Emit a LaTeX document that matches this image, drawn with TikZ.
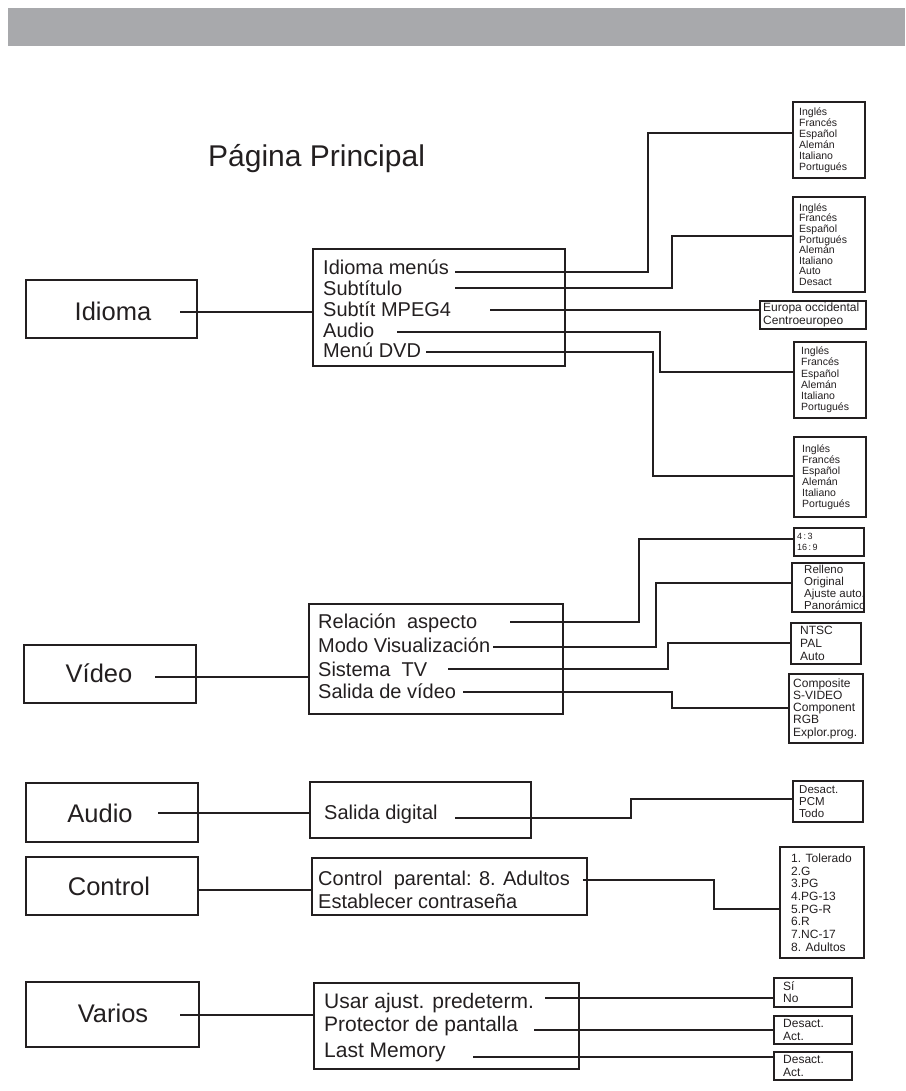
\documentclass[tikz,border=0pt]{standalone}
\usepackage{fontspec}
\setmainfont{Liberation Sans}
\definecolor{band}{HTML}{A8A9AC}
\definecolor{ink}{HTML}{231F20}
\tikzset{
  mainbox/.style={draw=ink, line width=1.6pt, anchor=north west, inner sep=0pt, outer sep=0pt},
  subbox/.style={draw=ink, line width=1.5pt, anchor=north west, inner sep=0pt, outer sep=0pt},
  optbox/.style={draw=ink, line width=1.4pt, anchor=north west, inner sep=0pt, outer sep=0pt},
  mainlabel/.style={font=\fontsize{25.5}{30}\selectfont, anchor=base, inner sep=0pt, text=ink},
  item/.style={font=\fontsize{20}{24}\selectfont, anchor=base west, inner sep=0pt, text=ink},
  itembig/.style={font=\fontsize{21}{25}\selectfont, anchor=base west, inner sep=0pt, text=ink},
  opt/.style={anchor=west, align=left, inner sep=0pt, text=ink},
  wire/.style={draw=ink, line width=1.2pt},
}
\begin{document}
\begin{tikzpicture}[x=1pt,y=-1pt]
\useasboundingbox (0,0) rectangle (905,1091);
\fill[band] (8,8) rectangle (905,46);
\node[anchor=base west, inner sep=0pt, text=ink, font=\fontsize{30}{36}\selectfont] (title) at (208,167) {Página Principal};

% ---------------- Idioma ----------------
\node[mainbox, minimum width=171pt, minimum height=58pt] (idioma) at (26,280) {};
\node[mainlabel] (idiomaT) at (113,320) {Idioma};
\node[subbox, minimum width=252pt, minimum height=117pt] (idiomaSub) at (313,249) {};
\node[item] (i1) at (323,274) {Idioma menús};
\node[item] (i2) at (323,295) {Subtítulo};
\node[item] (i3) at (323,316) {Subtít MPEG4};
\node[item] (i4) at (323,337) {Audio};
\node[item] (i5) at (323,357) {Menú DVD};

\node[optbox, minimum width=72pt, minimum height=76pt] (b1) at (793,102) {};
\node[opt, font=\fontsize{10.5}{10.9}\selectfont] (b1t) at ([xshift=6pt]b1.west) {Inglés\\Francés\\Español\\Alemán\\Italiano\\Portugués};
\node[optbox, minimum width=72pt, minimum height=95pt] (b2) at (793,197) {};
\node[opt, font=\fontsize{10.5}{10.6}\selectfont] (b2t) at ([xshift=6pt]b2.west) {Inglés\\Francés\\Español\\Portugués\\Alemán\\Italiano\\Auto\\Desact};
\node[optbox, minimum width=106pt, minimum height=28pt] (b3) at (760,301) {};
\node[opt, font=\fontsize{12}{12.3}\selectfont] (b3t) at ([xshift=3pt]b3.west) {Europa occidental\\Centroeuropeo};
\node[optbox, minimum width=72pt, minimum height=76pt] (b4) at (794,342) {};
\node[opt, font=\fontsize{10.5}{11.2}\selectfont] (b4t) at ([xshift=7pt]b4.west) {Inglés\\Francés\\Español\\Alemán\\Italiano\\Portugués};
\node[optbox, minimum width=72pt, minimum height=80pt] (b5) at (794,437) {};
\node[opt, font=\fontsize{10.5}{11}\selectfont] (b5t) at ([xshift=8pt]b5.west) {Inglés\\Francés\\Español\\Alemán\\Italiano\\Portugués};

\coordinate (idiomaS) at (180,312);
\draw[wire] (idiomaS) -- (idiomaS -| idiomaSub.west);
\coordinate (c1s) at (455,272); \coordinate (c1k) at (648,133);
\draw[wire] (c1s) -| (c1k) -- (c1k -| b1.west);
\coordinate (c2s) at (455,288); \coordinate (c2k) at (672,236);
\draw[wire] (c2s) -| (c2k) -- (c2k -| b2.west);
\coordinate (c3s) at (490,310);
\draw[wire] (c3s) -- (c3s -| b3.west);
\coordinate (c4s) at (397,332); \coordinate (c4k) at (660,372);
\draw[wire] (c4s) -| (c4k) -- (c4k -| b4.west);
\coordinate (c5s) at (426,352); \coordinate (c5k) at (653,476);
\draw[wire] (c5s) -| (c5k) -- (c5k -| b5.west);

% ---------------- Video ----------------
\node[mainbox, minimum width=172pt, minimum height=58pt] (video) at (24,645) {};
\node[mainlabel] (videoT) at (99,682) {Vídeo};
\node[subbox, minimum width=254pt, minimum height=110pt] (videoSub) at (309,604) {};
\node[item] (v1) at (318,628) {Relación\ \ aspecto};
\node[item] (v2) at (318,652.5) {Modo Visualización};
\node[item] (v3) at (318,676) {Sistema\ \ TV};
\node[item] (v4) at (318,698.5) {Salida de vídeo};

\node[optbox, minimum width=70pt, minimum height=28pt] (v1b) at (794,528) {};
\node[opt, font=\fontsize{9}{11}\selectfont] (v1t) at ([xshift=3pt]v1b.west) {4\,:\,3\\16\,:\,9};
\node[optbox, minimum width=72pt, minimum height=49pt] (v2b) at (792,563) {};
\node[opt, font=\fontsize{11.5}{11.8}\selectfont] (v2t) at ([xshift=12pt]v2b.west) {Relleno\\Original\\Ajuste auto.\\Panorámico};
\node[optbox, minimum width=70pt, minimum height=41pt] (v3b) at (791,623) {};
\node[opt, font=\fontsize{12}{12.7}\selectfont] (v3t) at ([xshift=9pt]v3b.west) {NTSC\\PAL\\Auto};
\node[optbox, minimum width=74pt, minimum height=69pt] (v4b) at (789,674) {};
\node[opt, font=\fontsize{12}{12.25}\selectfont] (v4t) at ([xshift=4pt]v4b.west) {Composite\\S-VIDEO\\Component\\RGB\\Explor.prog.};

\coordinate (videoS) at (155,677);
\draw[wire] (videoS) -- (videoS -| videoSub.west);
\coordinate (v1s) at (510,622); \coordinate (v1k) at (639,539);
\draw[wire] (v1s) -| (v1k) -- (v1k -| v1b.west);
\coordinate (v2s) at (493,647); \coordinate (v2k) at (656,583);
\draw[wire] (v2s) -| (v2k) -- (v2k -| v2b.west);
\coordinate (v3s) at (448,669); \coordinate (v3k) at (668,643);
\draw[wire] (v3s) -| (v3k) -- (v3k -| v3b.west);
\coordinate (v4s) at (463,692); \coordinate (v4k) at (672,708);
\draw[wire] (v4s) -| (v4k) -- (v4k -| v4b.west);

% ---------------- Audio ----------------
\node[mainbox, minimum width=172pt, minimum height=59pt] (audio) at (26,783) {};
\node[mainlabel] (audioT) at (100,822) {Audio};
\node[subbox, minimum width=221pt, minimum height=56pt] (audioSub) at (310,782) {};
\node[item] (a1) at (324,819) {Salida digital};
\node[optbox, minimum width=70pt, minimum height=41pt] (a1b) at (793,781) {};
\node[opt, font=\fontsize{11.5}{11.7}\selectfont] (a1t) at ([xshift=6pt]a1b.west) {Desact.\\PCM\\Todo};
\coordinate (audioS) at (158,813);
\draw[wire] (audioS) -- (audioS -| audioSub.west);
\coordinate (a1s) at (455,818); \coordinate (a1k) at (631,799);
\draw[wire] (a1s) -| (a1k) -- (a1k -| a1b.west);

% ---------------- Control ----------------
\node[mainbox, minimum width=172pt, minimum height=58pt] (control) at (26,857) {};
\node[mainlabel] (controlT) at (109,895) {Control};
\node[subbox, minimum width=275pt, minimum height=57pt] (controlSub) at (312,858) {};
\node[item] (k1) at (318,885) {Control\ \ parental: 8. Adultos};
\node[item] (k2) at (318,908) {Establecer contraseña};
\node[optbox, minimum width=84pt, minimum height=111pt] (k1b) at (780,847) {};
\node[opt, font=\fontsize{12}{12.7}\selectfont] (k1t) at ([xshift=11pt]k1b.west) {1. Tolerado\\2.G\\3.PG\\4.PG-13\\5.PG-R\\6.R\\7.NC-17\\8. Adultos};
\coordinate (controlS) at (198,890);
\draw[wire] (controlS) -- (controlS -| controlSub.west);
\coordinate (k1s) at (583,880); \coordinate (k1k) at (714,909);
\draw[wire] (k1s) -| (k1k) -- (k1k -| k1b.west);

% ---------------- Varios ----------------
\node[mainbox, minimum width=173pt, minimum height=65pt] (varios) at (26,982) {};
\node[mainlabel] (variosT) at (113,1022) {Varios};
\node[subbox, minimum width=265pt, minimum height=86pt] (variosSub) at (314,983) {};
\node[itembig] (r1) at (324,1008) {Usar ajust. predeterm.};
\node[itembig] (r2) at (324,1031) {Protector de pantalla};
\node[itembig] (r3) at (324,1057) {Last Memory};
\node[optbox, minimum width=78pt, minimum height=29pt] (r1b) at (774,978) {};
\node[opt, font=\fontsize{12}{12}\selectfont] (r1t) at ([xshift=9pt]r1b.west) {Sí\\No};
\node[optbox, minimum width=78pt, minimum height=28pt] (r2b) at (774,1016) {};
\node[opt, font=\fontsize{12}{12.3}\selectfont] (r2t) at ([xshift=9pt]r2b.west) {Desact.\\Act.};
\node[optbox, minimum width=78pt, minimum height=28pt] (r3b) at (774,1052) {};
\node[opt, font=\fontsize{12}{12.3}\selectfont] (r3t) at ([xshift=9pt]r3b.west) {Desact.\\Act.};
\coordinate (variosS) at (180,1015);
\draw[wire] (variosS) -- (variosS -| variosSub.west);
\coordinate (r1s) at (545,998);
\draw[wire] (r1s) -- (r1s -| r1b.west);
\coordinate (r2s) at (534,1030);
\draw[wire] (r2s) -- (r2s -| r2b.west);
\coordinate (r3s) at (473,1057);
\draw[wire] (r3s) -- (r3s -| r3b.west);
\end{tikzpicture}
\end{document}
